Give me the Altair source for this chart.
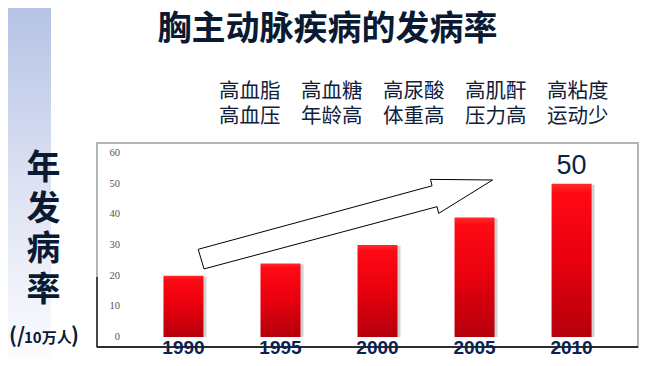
import altair as alt
import pandas as pd

# ---- data ----
years = [1990, 1995, 2000, 2005, 2010]
year_labels = ["1990", "1995", "2000", "2005", "2010"]
rates = [20, 24, 30, 39, 50]
y_ticks = [0, 10, 20, 30, 40, 50, 60]
arrow_x = [1990.76, 2002.81, 2002.73, 2005.93, 2003.15, 2003.07, 1991.06, 1990.76]
arrow_y = [28.6, 49.3, 51.4, 51.2, 40.3, 42.5, 22.2, 28.6]
title_text = "胸主动脉疾病的发病率"
row1 = "高血脂　高血糖　高尿酸　高肌酐　高粘度"
row2 = "高血压　年龄高　体重高　压力高　运动少"
side_label = ["年", "发", "病", "率"]
highlight_label = "50"

bars_df = pd.DataFrame({"year": years, "label": year_labels, "rate": rates})
ticks_df = pd.DataFrame({"tick": y_ticks, "txt": [str(t) for t in y_ticks]})
arrow_df = pd.DataFrame({"ax": arrow_x, "ay": arrow_y, "ord": list(range(len(arrow_x)))})
hl_df = pd.DataFrame({"year": [years[-1]], "rate": [rates[-1]], "txt": [highlight_label]})

W, H = 541, 204
xs = alt.Scale(domain=[1985.802, 2013.166], nice=False, zero=False)
ys = alt.Scale(domain=[-3.26, 63.26], nice=False, zero=False)

one = pd.DataFrame({"k": [0]})

strip = alt.Chart(one).mark_rect(
    color=alt.Gradient(
        gradient="linear",
        stops=[alt.GradientStop(color="#b6c3e6", offset=0),
               alt.GradientStop(color="#dce2f2", offset=0.5),
               alt.GradientStop(color="#fcfcfe", offset=1)],
        x1=0, x2=0, y1=0, y2=1,
    )
).encode(x=alt.value(-89), x2=alt.value(-46), y=alt.value(-135), y2=alt.value(215))

shadow = alt.Chart(bars_df).mark_bar(size=40, color="#9a9a9a", opacity=0.45, xOffset=3, yOffset=1).encode(
    x=alt.X("year:Q", scale=xs, axis=None),
    y=alt.Y("rate:Q", scale=ys, axis=None),
    y2=alt.datum(0),
)

bars = alt.Chart(bars_df).mark_bar(
    size=40,
    color=alt.Gradient(
        gradient="linear",
        stops=[alt.GradientStop(color="#ff2a2a", offset=0),
               alt.GradientStop(color="#ff0a14", offset=0.06),
               alt.GradientStop(color="#e8000e", offset=0.5),
               alt.GradientStop(color="#b4000c", offset=1)],
        x1=0, x2=0, y1=0, y2=1,
    ),
).encode(
    x=alt.X("year:Q", scale=xs, axis=None),
    y=alt.Y("rate:Q", scale=ys, axis=None),
    y2=alt.datum(0),
)

arrow = alt.Chart(arrow_df).mark_line(color="black", strokeWidth=1).encode(
    x=alt.X("ax:Q", scale=xs, axis=None),
    y=alt.Y("ay:Q", scale=ys, axis=None),
    order="ord:Q",
)

tick_text = alt.Chart(ticks_df).mark_text(
    align="right", baseline="middle", font="Liberation Serif", fontSize=10.5, color="#555555"
).encode(x=alt.value(23), y=alt.Y("tick:Q", scale=ys, axis=None), text="txt:N")

year_text = alt.Chart(bars_df).mark_text(
    align="center", baseline="middle", font="Liberation Sans", fontWeight="bold",
    fontSize=19, color="#0b2150"
).encode(x=alt.X("year:Q", scale=xs, axis=None), y=alt.value(205), text="label:N")

hl_text = alt.Chart(hl_df).mark_text(
    align="center", baseline="middle", font="Liberation Sans", fontSize=27,
    color="#0d1f45", dy=-18
).encode(x=alt.X("year:Q", scale=xs, axis=None), y=alt.Y("rate:Q", scale=ys, axis=None), text="txt:N")

bottom_rule = alt.Chart(one).mark_rule(color="black", strokeWidth=1.5).encode(
    x=alt.value(0), x2=alt.value(W), y=alt.value(H)
)
left_rule = alt.Chart(one).mark_rule(color="#222222", strokeWidth=1.5).encode(
    x=alt.value(0), y=alt.value(134), y2=alt.value(H)
)

cjk = "Noto Sans CJK SC"
title = alt.Chart(one).mark_text(
    text=title_text, font=cjk, fontWeight="bold", fontSize=34, color="#0a1a33",
    align="center", baseline="middle"
).encode(x=alt.value(230.5), y=alt.value(-113))

r1 = alt.Chart(one).mark_text(
    text=row1, font=cjk, fontSize=20.5, color="#10203a", align="left", baseline="middle"
).encode(x=alt.value(122), y=alt.value(-51.3))
r2 = alt.Chart(one).mark_text(
    text=row2, font=cjk, fontSize=20.5, color="#10203a", align="left", baseline="middle"
).encode(x=alt.value(122), y=alt.value(-26.3))

side = alt.Chart(one).mark_text(
    text=side_label, font=cjk, fontWeight="bold", fontSize=34, lineHeight=40.7,
    color="#0a1a33", align="center", baseline="middle"
).encode(x=alt.value(-53.5), y=alt.value(26))

unit1 = alt.Chart(one).mark_text(
    text="(/", font=cjk, fontWeight="bold", fontSize=21, color="#0a1a33",
    align="left", baseline="middle"
).encode(x=alt.value(-88), y=alt.value(194))
unit2 = alt.Chart(one).mark_text(
    text="10万人", font=cjk, fontWeight="bold", fontSize=15, color="#0a1a33",
    align="left", baseline="middle"
).encode(x=alt.value(-73), y=alt.value(195))
unit3 = alt.Chart(one).mark_text(
    text=")", font=cjk, fontWeight="bold", fontSize=21, color="#0a1a33",
    align="left", baseline="middle"
).encode(x=alt.value(-26), y=alt.value(194))

chart = alt.layer(
    strip, shadow, bars, arrow, tick_text, bottom_rule, left_rule, year_text, hl_text,
    title, r1, r2, side, unit1, unit2, unit3
).properties(
    width=W, height=H,
    padding={"left": 89, "top": 135, "right": 11, "bottom": 11},
    autosize=alt.AutoSizeParams(type="none"),
    background="white",
).configure_view(stroke="#b4b4b4", strokeWidth=2)

chart.save("out.html", embed_options={"renderer": "svg", "actions": False})
